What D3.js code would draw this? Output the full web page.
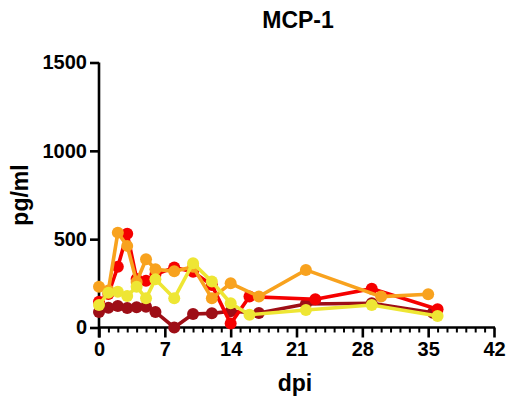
<!DOCTYPE html>
<html><head><meta charset="utf-8">
<script src="https://cdn.jsdelivr.net/npm/d3@7"></script>
<style>body{margin:0;background:#fff}svg{display:block}text{font-family:"Liberation Sans",Arial,sans-serif;font-weight:bold;fill:#000}</style>
</head><body><div id="chart"></div>
<script>
const title = "MCP-1";
const xLabel = "dpi";
const yLabel = "pg/ml";
const xTicks = [0, 7, 14, 21, 28, 35, 42];
const yTicks = [0, 500, 1000, 1500];
const seriesNames = ["A", "B", "C", "D"];
const seriesColors = ["#9E0E16", "#F50000", "#F8A21E", "#EEE634"];
const daysA = [0, 1, 2, 3, 4, 5, 6, 8, 10, 12, 14, 17, 22, 29, 35.5];
const valsA = [88, 112, 122, 110, 114, 118, 88, 0, 76, 80, 92, 82, 133, 137, 84];
const daysB = [0, 1, 2, 3, 4, 5, 6, 8, 10, 12, 14, 16, 23, 29, 36];
const valsB = [146, 190, 344, 530, 275, 265, 300, 340, 315, 240, 22, 175, 160, 220, 103];
const daysC = [0, 1, 2, 3, 4, 5, 6, 8, 10, 12, 14, 17, 22, 30, 35];
const valsC = [231, 210, 537, 462, 258, 386, 330, 318, 344, 165, 250, 175, 326, 175, 188];
const daysD = [0, 1, 2, 3, 4, 5, 6, 8, 10, 12, 14, 16, 22, 29, 36];
const valsD = [127, 197, 203, 178, 231, 165, 273, 165, 364, 260, 137, 72, 99, 127, 65];

const days = [daysA, daysB, daysC, daysD];
const vals = [valsA, valsB, valsC, valsD];

const W = 510, H = 403;
const svg = d3.select("#chart").append("svg").attr("width", W).attr("height", H);
const x = d3.scaleLinear().domain([0, 42]).range([99, 494]);
const y = d3.scaleLinear().domain([0, 1500]).range([327.5, 62.5]);

// axes
const yAxis = d3.axisLeft(y).tickValues(yTicks).tickFormat(d3.format("d")).tickSize(9).tickPadding(3).tickSizeOuter(0);
const gy = svg.append("g").attr("transform", `translate(${x(0)},0)`).call(yAxis);
gy.select(".domain").attr("stroke", "#000").attr("stroke-width", 2.6).attr("d", `M0,${y(1500)}V${y(0)+10}`);
gy.selectAll(".tick line").attr("stroke", "#000").attr("stroke-width", 2.6);
gy.selectAll(".tick text").style("font-size", "20px").style("font-weight", "bold").style("font-family", "'Liberation Sans', Arial, sans-serif").attr("fill", "#000");

const minor = d3.range(0, 43, 1).filter(d => !xTicks.includes(d));
const gxm = svg.append("g").attr("transform", `translate(0,${y(0)})`)
  .call(d3.axisBottom(x).tickValues(minor).tickSize(5).tickFormat("").tickSizeOuter(0));
gxm.select(".domain").remove();
gxm.selectAll(".tick line").attr("stroke", "#000").attr("stroke-width", 2);
const gx = svg.append("g").attr("transform", `translate(0,${y(0)})`)
  .call(d3.axisBottom(x).tickValues(xTicks).tickFormat(d3.format("d")).tickSize(10).tickPadding(4).tickSizeOuter(0));
gx.select(".domain").attr("stroke", "#000").attr("stroke-width", 2.6).attr("d", `M${x(0)},0H${x(42)+1}`);
gx.selectAll(".tick line").attr("stroke", "#000").attr("stroke-width", 2.6);
gx.selectAll(".tick text").style("font-size", "20px").style("font-weight", "bold").style("font-family", "'Liberation Sans', Arial, sans-serif").attr("fill", "#000");

// series
const line = d3.line().x(d => x(d[0])).y(d => y(d[1]));
seriesNames.forEach((name, i) => {
  const pts = days[i].map((d, j) => [d, vals[i][j]]);
  const g = svg.append("g");
  g.append("path").attr("d", line(pts)).attr("fill", "none").attr("stroke", seriesColors[i]).attr("stroke-width", 3.6);
  g.selectAll("circle").data(pts).join("circle").attr("cx", d => x(d[0])).attr("cy", d => y(d[1])).attr("r", 6).attr("fill", seriesColors[i]);
});

svg.append("text").attr("x", 298).attr("y", 28).attr("text-anchor", "middle").style("font-size", "23px").text(title);
svg.append("text").attr("x", 295).attr("y", 391).attr("text-anchor", "middle").style("font-size", "23px").text(xLabel);
svg.append("text").attr("transform", "translate(28,195) rotate(-90)").attr("text-anchor", "middle").style("font-size", "23px").text(yLabel);
</script></body></html>
